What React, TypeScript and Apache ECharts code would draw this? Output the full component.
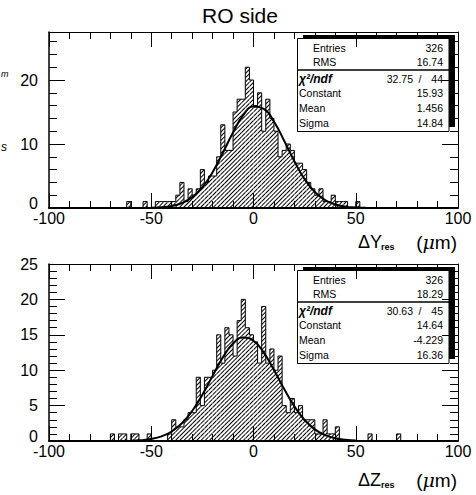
import React, { useEffect, useRef } from "react";
import * as echarts from "echarts";

// ---------- data ----------
const X_MIN = -100;
const X_MAX = 100;
const BIN_WIDTH = 2;

// ΔY_res histogram: 100 bins of 2 µm, starting at -100
const countsY = [
  0, 0, 0, 0, 0, 0, 0, 0, 0, 0,
  0, 0, 0, 0, 0, 0, 0, 0, 0, 1,
  0, 0, 0, 1, 0, 0, 1, 1, 1, 1,
  1, 2, 4, 1, 3, 2, 3, 6, 4, 5,
  5, 8, 13, 9, 9, 15, 17, 17, 22, 20,
  16, 18, 12, 17, 14, 12, 8, 9, 10, 9,
  7, 7, 6, 4, 3, 2, 3, 1, 1, 2,
  1, 1, 1, 0, 0, 1, 0, 0, 0, 0,
  0, 0, 0, 0, 0, 0, 0, 0, 0, 0,
  0, 0, 0, 0, 0, 0, 0, 0, 0, 0,
];

// ΔZ_res histogram
const countsZ = [
  0, 0, 0, 0, 0, 0, 0, 0, 0, 0,
  0, 0, 0, 0, 0, 1, 0, 1, 1, 0,
  1, 1, 0, 0, 1, 0, 0, 0, 0, 1,
  3, 2, 2, 3, 4, 4, 9, 5, 9, 9,
  10, 15, 11, 16, 15, 12, 17, 20, 16, 15,
  14, 11, 19, 11, 13, 10, 12, 5, 4, 6,
  4, 5, 3, 3, 3, 1, 1, 3, 1, 1,
  2, 0, 0, 0, 0, 0, 0, 0, 1, 0,
  0, 0, 0, 0, 0, 1, 0, 0, 0, 0,
  0, 0, 0, 0, 0, 0, 0, 0, 0, 0,
];

// fitted curves
const fitXY = [-50, -45, -40, -35, -30, -25, -20, -15, -10, -5, 0, 5, 10, 15, 20, 25, 30, 35, 40, 45, 50, 55];
const fitValY = [0.04, 0.12, 0.32, 0.78, 1.7, 3.25, 5.6, 8.6, 11.8, 14.5, 15.85, 15.5, 13.5, 10.5, 7.3, 4.5, 2.5, 1.24, 0.55, 0.21, 0.08, 0.02];
const fitXZ = [-60, -55, -50, -45, -40, -35, -30, -25, -20, -15, -10, -5, 0, 5, 10, 15, 20, 25, 30, 35, 40, 45, 50];
const fitValZ = [0.04, 0.12, 0.29, 0.66, 1.34, 2.5, 4.24, 6.54, 9.2, 11.8, 13.76, 14.62, 14.16, 12.49, 10.03, 7.34, 4.89, 2.97, 1.64, 0.83, 0.38, 0.16, 0.06];

// stat boxes
const statLabels = ["Entries", "RMS", "Constant", "Mean", "Sigma"];
const statValuesY = ["326", "16.74", "15.93", "1.456", "14.84"];
const statValuesZ = ["326", "18.29", "14.64", "-4.229", "16.36"];
const chi2Y = ["32.75", "44"];
const chi2Z = ["30.63", "45"];

const xTickLabels = [-100, -50, 0, 50, 100];
const yMaxTop = 27.5;
const yMaxBottom = 25;

const FONT = '"Liberation Sans", Arial, Helvetica, sans-serif';

const grids = [
  { left: 49, top: 32, width: 409, height: 176 },
  { left: 49, top: 264, width: 409, height: 177 },
];

const hatch: any = {
  symbol: "rect",
  symbolSize: 1,
  color: "#000",
  dashArrayX: [1, 0],
  dashArrayY: [1, 2],
  rotation: -Math.PI / 4,
};

function xAxesFor(gridIndex: number): any[] {
  const common = {
    gridIndex,
    type: "value",
    min: X_MIN,
    max: X_MAX,
    interval: 50,
    z: 10,
    splitLine: { show: false },
    axisTick: { show: true, inside: true, length: 15, lineStyle: { color: "#000", width: 1 } },
    minorTick: { show: true, splitNumber: 5, length: 7, lineStyle: { color: "#000", width: 1 } },
    minorSplitLine: { show: false },
  };
  return [
    {
      ...common,
      position: "bottom",
      axisLine: { show: true, onZero: false, lineStyle: { color: "#000", width: 2 } },
      axisLabel: {
        show: true,
        color: "#000",
        fontSize: 16,
        fontFamily: FONT,
        margin: 2,
        formatter: (v: number) => (xTickLabels.indexOf(v) >= 0 ? String(v) : ""),
      },
    },
    {
      ...common,
      position: "top",
      axisLine: { show: true, onZero: false, lineStyle: { color: "#000", width: 1 } },
      axisLabel: { show: false },
    },
    {
      gridIndex,
      type: "category",
      show: false,
      boundaryGap: true,
      axisLine: { onZero: false },
      data: countsY.map((_, i) => String(X_MIN + i * BIN_WIDTH)),
    },
  ];
}

const zeroLabel = (v: number) => (v === 0 ? "{z|0}" : String(v));

const yLabel = {
  show: true,
  color: "#000",
  fontSize: 16,
  fontFamily: FONT,
  margin: 11,
  showMaxLabel: true,
  formatter: zeroLabel,
  rich: { z: { fontSize: 16, fontFamily: FONT, color: "#000", padding: [0, 0, 9, 0] } },
};

function yAxesTop(): any[] {
  const base = { gridIndex: 0, type: "value", min: 0, max: yMaxTop, z: 10, splitLine: { show: false } };
  return [
    {
      ...base,
      position: "left",
      interval: 10,
      axisLine: { show: true, onZero: false, lineStyle: { color: "#000", width: 1.5 } },
      axisTick: { show: true, inside: true, length: 16, lineStyle: { color: "#000" } },
      axisLabel: { ...yLabel, showMaxLabel: false },
    },
    {
      ...base,
      position: "left",
      interval: 2,
      axisLine: { show: false, onZero: false },
      axisTick: { show: true, inside: true, length: 8, lineStyle: { color: "#000" } },
      axisLabel: { show: false },
    },
    {
      ...base,
      position: "right",
      interval: 10,
      axisLine: { show: true, onZero: false, lineStyle: { color: "#000", width: 1 } },
      axisTick: { show: true, inside: true, length: 16, lineStyle: { color: "#000" } },
      axisLabel: { show: false },
    },
    {
      ...base,
      position: "right",
      interval: 2,
      axisLine: { show: false, onZero: false },
      axisTick: { show: true, inside: true, length: 8, lineStyle: { color: "#000" } },
      axisLabel: { show: false },
    },
  ];
}

function yAxesBottom(): any[] {
  const base = {
    gridIndex: 1,
    type: "value",
    min: 0,
    max: yMaxBottom,
    interval: 5,
    z: 10,
    splitLine: { show: false },
    axisTick: { show: true, inside: true, length: 16, lineStyle: { color: "#000" } },
    minorTick: { show: true, splitNumber: 5, length: 8, lineStyle: { color: "#000" } },
    minorSplitLine: { show: false },
  };
  return [
    { ...base, position: "left", axisLine: { show: true, onZero: false, lineStyle: { color: "#000", width: 1.5 } }, axisLabel: yLabel },
    { ...base, position: "right", axisLine: { show: true, onZero: false, lineStyle: { color: "#000", width: 1 } }, axisLabel: { show: false } },
  ];
}

function outline(counts: number[]) {
  const pts: number[][] = counts.map((c, i) => [X_MIN + i * BIN_WIDTH, c]);
  pts.push([X_MAX, 0]);
  return pts;
}

function seriesFor(counts: number[], fx: number[], fy: number[], xVal: number, xCat: number, yIdx: number): any[] {
  return [
    {
      type: "bar",
      xAxisIndex: xCat,
      yAxisIndex: yIdx,
      data: counts,
      barCategoryGap: "0%",
      barGap: "0%",
      silent: true,
      itemStyle: { color: "#fff", decal: hatch },
      z: 2,
    },
    {
      type: "line",
      xAxisIndex: xVal,
      yAxisIndex: yIdx,
      data: outline(counts),
      step: "end",
      symbol: "none",
      silent: true,
      lineStyle: { color: "#000", width: 1 },
      z: 3,
    },
    {
      type: "line",
      xAxisIndex: xVal,
      yAxisIndex: yIdx,
      data: fx.map((x, i) => [x, fy[i]]),
      smooth: true,
      symbol: "none",
      silent: true,
      lineStyle: { color: "#000", width: 2 },
      z: 4,
    },
  ];
}

function statBox(dy: number, values: string[], chi: string[]): any[] {
  const f = `10.5px ${FONT}`;
  const els: any[] = [
    { type: "rect", z: 5, shape: { x: 303, y: 35 + dy, width: 152, height: 3 }, style: { fill: "#000" } },
    { type: "rect", z: 5, shape: { x: 449, y: 35 + dy, width: 6, height: 92 }, style: { fill: "#000" } },
    { type: "rect", z: 6, shape: { x: 297.5, y: 38.5 + dy, width: 151.5, height: 93 }, style: { fill: "#fff", stroke: "#000", lineWidth: 1 } },
    { type: "line", z: 7, shape: { x1: 297.5, y1: 70 + dy, x2: 449, y2: 70 + dy }, style: { stroke: "#000", lineWidth: 1.5 } },
  ];
  const rowsY = [48, 62, 93, 108, 123];
  statLabels.forEach((lab, i) => {
    els.push({
      type: "text", z: 7,
      style: { text: lab, x: i < 2 ? 313 : 299, y: rowsY[i] + dy, font: f, fill: "#000", textAlign: "left", textVerticalAlign: "middle" },
    });
    els.push({
      type: "text", z: 7,
      style: { text: values[i], x: 443, y: rowsY[i] + dy, font: f, fill: "#000", textAlign: "right", textVerticalAlign: "middle" },
    });
  });
  els.push({
    type: "text", z: 7,
    style: { text: "χ²/ndf", x: 299, y: 79 + dy, font: `italic bold 12px ${FONT}`, fill: "#000", textAlign: "left", textVerticalAlign: "middle" },
  });
  els.push({
    type: "text", z: 7,
    style: { text: chi[0], x: 413, y: 79 + dy, font: f, fill: "#000", textAlign: "right", textVerticalAlign: "middle" },
  });
  els.push({
    type: "text", z: 7,
    style: { text: "/", x: 420, y: 79 + dy, font: f, fill: "#000", textAlign: "center", textVerticalAlign: "middle" },
  });
  els.push({
    type: "text", z: 7,
    style: { text: chi[1], x: 443, y: 79 + dy, font: f, fill: "#000", textAlign: "right", textVerticalAlign: "middle" },
  });
  return els;
}

function axisTitle(letter: string, y: number): any[] {
  return [
    { type: "text", z: 7, style: { text: "Δ" + letter, x: 358, y, font: `18px ${FONT}`, fill: "#000", textAlign: "left", textVerticalAlign: "middle" } },
    { type: "text", z: 7, style: { text: "res", x: 381, y: y + 5, font: `bold 9px ${FONT}`, fill: "#000", textAlign: "left", textVerticalAlign: "middle" } },
    {
      type: "text", z: 7,
      style: {
        text: "{p|(}{u|μ}{p|m)}", x: 457, y, fill: "#000", textAlign: "right", textVerticalAlign: "middle",
        rich: {
          p: { font: `19px ${FONT}`, fill: "#000" },
          u: { font: `italic 19px "DejaVu Serif", serif`, fill: "#000" },
        },
      },
    },
  ];
}

export default function App() {
  const ref = useRef<HTMLDivElement>(null);
  useEffect(() => {
    if (!ref.current) return;
    const chart = echarts.init(ref.current, undefined, { renderer: "svg" });
    const option: any = {
      animation: false,
      backgroundColor: "#fff",
      textStyle: { fontFamily: FONT },
      grid: grids,
      xAxis: [...xAxesFor(0), ...xAxesFor(1)],
      yAxis: [...yAxesTop(), ...yAxesBottom()],
      series: [
        ...seriesFor(countsY, fitXY, fitValY, 0, 2, 0),
        ...seriesFor(countsZ, fitXZ, fitValZ, 3, 5, 4),
      ],
      graphic: [
        { type: "text", z: 7, style: { text: "RO side", x: 240, y: 15, font: `21px ${FONT}`, fill: "#000", textAlign: "center", textVerticalAlign: "middle" } },
        { type: "text", z: 7, style: { text: "m", x: 1, y: 74, font: `italic 9px ${FONT}`, fill: "#000", textAlign: "left", textVerticalAlign: "middle" } },
        { type: "text", z: 7, style: { text: "s", x: 1, y: 147, font: `italic 12px ${FONT}`, fill: "#000", textAlign: "left", textVerticalAlign: "middle" } },
        ...statBox(0, statValuesY, chi2Y),
        ...statBox(232, statValuesZ, chi2Z),
        ...axisTitle("Y", 242),
        ...axisTitle("Z", 480),
      ],
    };
    chart.setOption(option);
    return () => chart.dispose();
  }, []);
  return (
    <div
      ref={ref}
      style={{ position: "absolute", left: 0, top: 0, width: 476, height: 495, background: "#fff" }}
    />
  );
}
